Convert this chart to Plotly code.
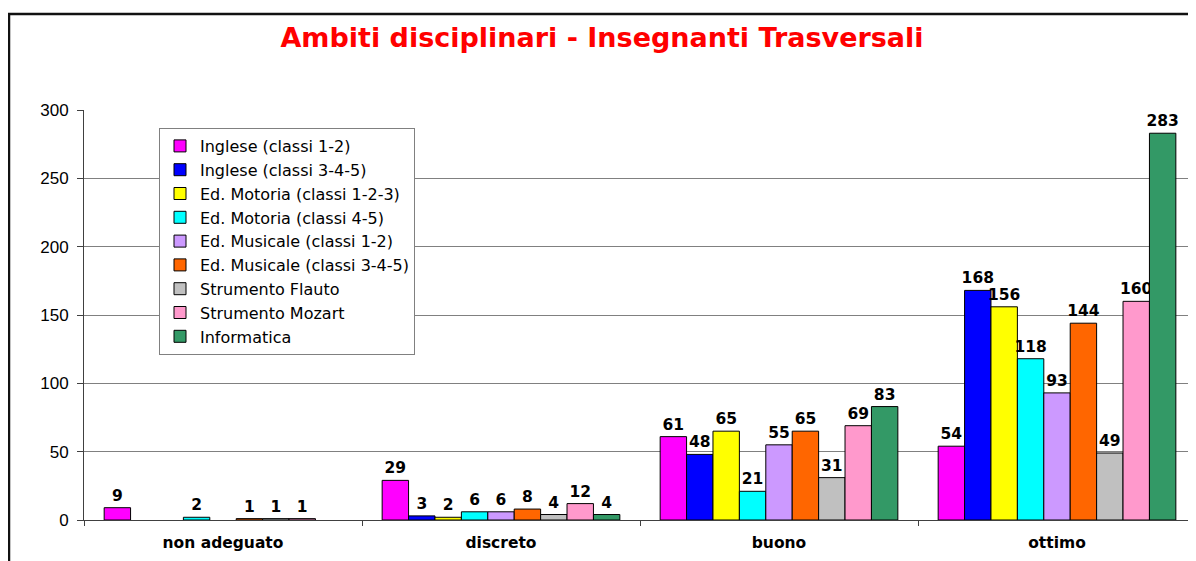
import plotly.graph_objects as go

# Categories and series
categories = ["non adeguato", "discreto", "buono", "ottimo"]

series_names = [
    "Inglese (classi 1-2)",
    "Inglese (classi 3-4-5)",
    "Ed. Motoria (classi 1-2-3)",
    "Ed. Motoria (classi 4-5)",
    "Ed. Musicale (classi 1-2)",
    "Ed. Musicale (classi 3-4-5)",
    "Strumento Flauto",
    "Strumento Mozart",
    "Informatica",
]

inglese_12 = [9, 29, 61, 54]
inglese_345 = [None, 3, 48, 168]
motoria_123 = [None, 2, 65, 156]
motoria_45 = [2, 6, 21, 118]
musicale_12 = [None, 6, 55, 93]
musicale_345 = [1, 8, 65, 144]
flauto = [1, 4, 31, 49]
mozart = [1, 12, 69, 160]
informatica = [None, 4, 83, 283]

y_ticks = [0, 50, 100, 150, 200, 250, 300]

series_values = [inglese_12, inglese_345, motoria_123, motoria_45,
                 musicale_12, musicale_345, flauto, mozart, informatica]
colors = ["#FF00FF", "#0000FF", "#FFFF00", "#00FFFF", "#CC99FF",
          "#FF6600", "#C0C0C0", "#FF99CC", "#339966"]

# page body adds an 8px offset, so the figure is sized to fill the rest
W, H = 1188, 553
ML, MR, MT, MB = 76, 0, 102, 41
pw = W - ML - MR
ph = H - MT - MB

fig = go.Figure()
for name, vals, col in zip(series_names, series_values, colors):
    fig.add_trace(go.Bar(
        x=categories,
        y=vals,
        name=name,
        marker=dict(color=col, line=dict(color="black", width=1)),
        text=[("" if v is None else str(v)) for v in vals],
        textposition="outside",
        constraintext="none",
        cliponaxis=False,
        textfont=dict(family="DejaVu Sans", size=15.5, color="black", weight="bold"),
    ))

fig.update_layout(
    width=W, height=H,
    margin=dict(l=ML, r=MR, t=MT, b=MB),
    paper_bgcolor="white",
    plot_bgcolor="white",
    barmode="group",
    bargap=0.145,
    bargroupgap=0,
    title=dict(
        text="<b>Ambiti disciplinari - Insegnanti Trasversali</b>",
        font=dict(family="DejaVu Sans", size=27, color="#FF0000"),
        x=0.5, xanchor="center",
        y=1 - 30 / H, yanchor="middle",
    ),
    legend=dict(
        x=(151 - ML) / pw, xanchor="left",
        y=(H - MB - 120) / ph, yanchor="top",
        bgcolor="white",
        bordercolor="#808080", borderwidth=1,
        font=dict(family="DejaVu Sans", size=16, color="black"),
        traceorder="normal",
    ),
    showlegend=True,
)

fig.update_xaxes(
    type="category",
    showline=True, linecolor="#404040", linewidth=1,
    ticks="outside", tickson="boundaries", ticklen=5, tickcolor="#404040",
    tickfont=dict(family="DejaVu Sans", size=15.5, color="black", weight="bold"),
    ticklabelstandoff=8,
    showgrid=False,
)
fig.update_yaxes(
    range=[0, 300],
    tickvals=y_ticks,
    showline=True, linecolor="#404040", linewidth=1,
    ticks="outside", ticklen=6, tickcolor="#404040",
    tickfont=dict(family="Liberation Sans", size=17, color="black"),
    ticklabelstandoff=5,
    showgrid=True, gridcolor="#808080", gridwidth=1,
    zeroline=False,
)

# outer chart border (left and top visible in the reference)
fig.add_shape(
    type="rect", xref="paper", yref="paper",
    x0=(1 - ML) / pw, x1=(W + 20 - ML) / pw,
    y0=-(MB + 20) / ph, y1=(H - MB - 6) / ph,
    line=dict(color="#111111", width=2.5),
    layer="above",
)

fig.write_html("out.html")
